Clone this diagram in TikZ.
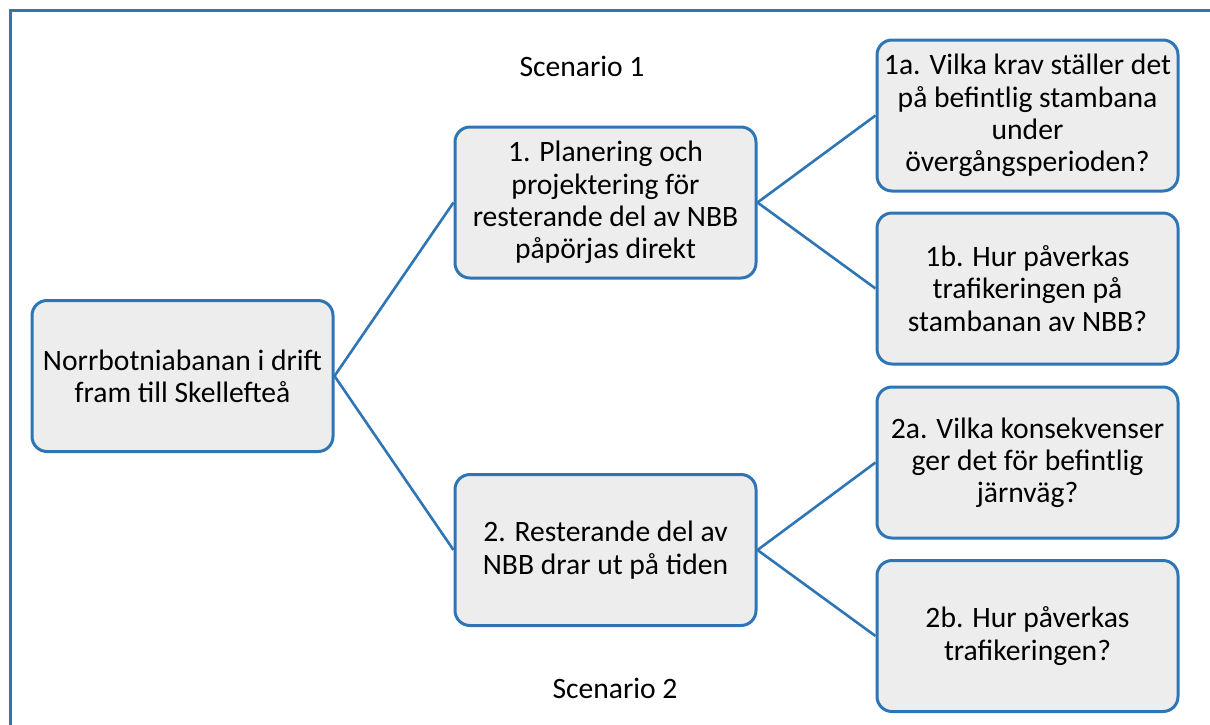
\documentclass[tikz,border=0pt]{standalone}
\usepackage{fontspec}
\setmainfont{Carlito}
\usepackage{xcolor}
\usetikzlibrary{positioning}
\definecolor{frameblue}{RGB}{46,117,182}
\definecolor{boxgray}{RGB}{237,237,237}
\tikzset{
  box/.style={draw=frameblue,line width=1.5pt,rounded corners=7.5pt,fill=boxgray,align=center,
    minimum width=150.5pt,minimum height=75.5pt,inner sep=2pt,
    font=\fontsize{14.8}{16.1}\selectfont},
  link/.style={draw=frameblue,line width=1.3pt},
  lbl/.style={font=\fontsize{14.8}{16.1}\selectfont},
}
\begin{document}
\begin{tikzpicture}[x=0.5pt,y=-0.5pt]
  \useasboundingbox (0,0) rectangle (1210,724);
  % outer frame, cut by the page on the right and at the bottom
  \draw[frameblue,line width=1.5pt] (1220,10) -- (10,10) -- (10,734);
  \node[box] (root) at (182.5,376) {Norrbotniabanan i drift\\fram till Skellefteå};
  \node[box] (s1) at (605.5,202.5) {1. Planering och\\projektering för\\resterande del av NBB\\påpörjas direkt};
  \node[box] (s2) at (605.5,550) {2. Resterande del av\\NBB drar ut på tiden};
  \node[box] (q1a) at (1027.5,115.5) {1a. Vilka krav ställer det\\på befintlig stambana\\under\\övergångsperioden?};
  \node[box] (q1b) at (1027.5,288.5) {1b. Hur påverkas\\trafikeringen på\\stambanan av NBB?};
  \node[box] (q2a) at (1027.5,462.5) {2a. Vilka konsekvenser\\ger det för befintlig\\järnväg?};
  \node[box] (q2b) at (1027.5,636) {2b. Hur påverkas\\trafikeringen?};
  \node[lbl] (sc1) at (582,66) {Scenario 1};
  \node[lbl] (sc2) at (615,688) {Scenario 2};
  % connectors
  \draw[link] (root.east) -- (s1.west);
  \draw[link] (root.east) -- (s2.west);
  \draw[link] (s1.east) -- (q1a.west);
  \draw[link] (s1.east) -- (q1b.west);
  \draw[link] (s2.east) -- (q2a.west);
  \draw[link] (s2.east) -- (q2b.west);
\end{tikzpicture}
\end{document}
